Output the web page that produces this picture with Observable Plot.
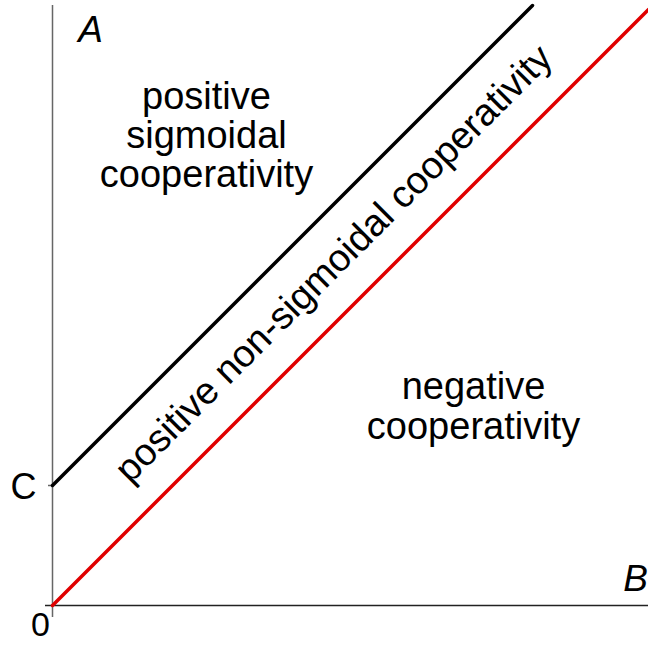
<!DOCTYPE html>
<html>
<head>
<meta charset="utf-8">
<script src="https://cdn.jsdelivr.net/npm/d3@7"></script>
<script src="https://cdn.jsdelivr.net/npm/@observablehq/plot@0.6"></script>
<style>
  html, body { margin: 0; padding: 0; background: #fff; }
</style>
</head>
<body>
<div id="chart"></div>
<script>
// Boundary lines (B on x, A on y)
const sigmoidalBoundary = [[0, 120], [480, 600]]; // A = B + C
const cooperativityBoundary = [[0, 0], [596, 596]]; // A = B
const cValue = 120;

// Region labels
const regionLabels = [
  {x: 154, y: 470, text: "positive\nsigmoidal\ncooperativity", rotate: 0},
  {x: 421, y: 199, text: "negative\ncooperativity", rotate: 0},
  {x: 281, y: 342, text: "positive non-sigmoidal cooperativity", rotate: -45}
];

// Axis labels
const axisLetters = [
  {x: 38, y: 575, text: "A"},
  {x: 583, y: 26, text: "B"}
];
const cLabel = [{x: -16, y: 118, text: "C"}];
const zeroLabel = [{x: -12, y: -20, text: "0"}];

const font = "'Liberation Sans', Arial, Helvetica, sans-serif";

const chart = Plot.plot({
  width: 648,
  height: 645,
  marginLeft: 52,
  marginRight: 0,
  marginTop: 5,
  marginBottom: 40,
  x: {domain: [0, 596], axis: null},
  y: {domain: [0, 600], axis: null},
  style: {fontFamily: font, background: "#fff", overflow: "visible"},
  marks: [
    // y axis
    Plot.ruleX([0], {y1: -12, y2: 600, stroke: "#666", strokeWidth: 1.5, clip: false}),
    // x axis
    Plot.ruleY([0], {x1: -7, x2: 596, stroke: "#222", strokeWidth: 1.5, clip: false}),
    // C tick
    Plot.ruleY([cValue], {x1: -4, x2: 0, stroke: "#666", strokeWidth: 1.5}),
    // lines
    Plot.line(sigmoidalBoundary, {x: d => d[0], y: d => d[1], stroke: "#000", strokeWidth: 3.5}),
    Plot.line(cooperativityBoundary, {x: d => d[0], y: d => d[1], stroke: "#e00000", strokeWidth: 3.5}),
    // region labels
    Plot.text(regionLabels, {x: "x", y: "y", text: "text", rotate: "rotate", fontSize: 38, lineHeight: 1.03, fill: "#000", textAnchor: "middle"}),
    // axis letters
    Plot.text(axisLetters, {x: "x", y: "y", text: "text", fontSize: 37, fontStyle: "italic", fill: "#000"}),
    Plot.text(cLabel, {x: "x", y: "y", text: "text", textAnchor: "end", fontSize: 36, fill: "#000"}),
    Plot.text(zeroLabel, {x: "x", y: "y", text: "text", textAnchor: "middle", fontSize: 34, fill: "#000"})
  ]
});
document.getElementById("chart").appendChild(chart);
</script>
</body>
</html>
